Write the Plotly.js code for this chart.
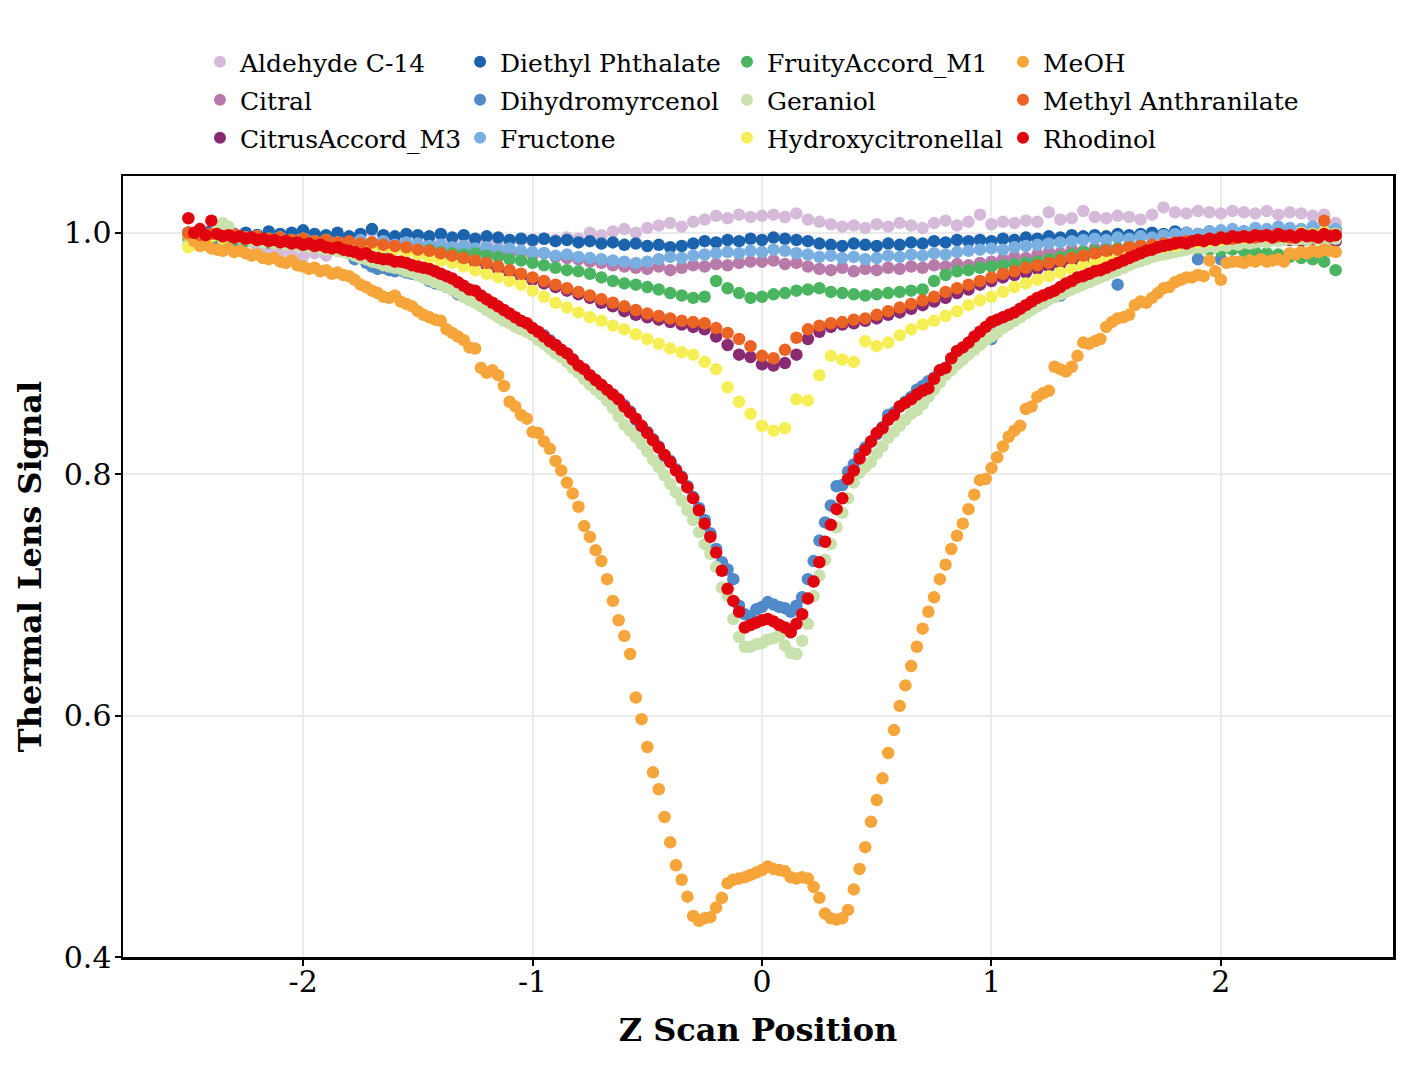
<!DOCTYPE html>
<html>
<head>
<meta charset="utf-8">
<script src="https://cdn.plot.ly/plotly-3.0.1.min.js"></script>
<style>
  html, body { margin: 0; padding: 0; background: #fff; }
  #chart { width: 1420px; height: 1065px; }
</style>
</head>
<body>
<div id="chart"></div>
<script>
// z scan positions: fine grid (0.025) for the deep curves, coarse grid (0.05) for the shallow ones
var zFine = [
  -2.5,-2.475,-2.45,-2.425,-2.4,-2.375,-2.35,-2.325,-2.3,-2.275,
  -2.25,-2.225,-2.2,-2.175,-2.15,-2.125,-2.1,-2.075,-2.05,-2.025,
  -2.0,-1.975,-1.95,-1.925,-1.9,-1.875,-1.85,-1.825,-1.8,-1.775,
  -1.75,-1.725,-1.7,-1.675,-1.65,-1.625,-1.6,-1.575,-1.55,-1.525,
  -1.5,-1.475,-1.45,-1.425,-1.4,-1.375,-1.35,-1.325,-1.3,-1.275,
  -1.25,-1.225,-1.2,-1.175,-1.15,-1.125,-1.1,-1.075,-1.05,-1.025,
  -1.0,-0.975,-0.95,-0.925,-0.9,-0.875,-0.85,-0.825,-0.8,-0.775,
  -0.75,-0.725,-0.7,-0.675,-0.65,-0.625,-0.6,-0.575,-0.55,-0.525,
  -0.5,-0.475,-0.45,-0.425,-0.4,-0.375,-0.35,-0.325,-0.3,-0.275,
  -0.25,-0.225,-0.2,-0.175,-0.15,-0.125,-0.1,-0.075,-0.05,-0.025,
  0.0,0.025,0.05,0.075,0.1,0.125,0.15,0.175,0.2,0.225,
  0.25,0.275,0.3,0.325,0.35,0.375,0.4,0.425,0.45,0.475,
  0.5,0.525,0.55,0.575,0.6,0.625,0.65,0.675,0.7,0.725,
  0.75,0.775,0.8,0.825,0.85,0.875,0.9,0.925,0.95,0.975,
  1.0,1.025,1.05,1.075,1.1,1.125,1.15,1.175,1.2,1.225,
  1.25,1.275,1.3,1.325,1.35,1.375,1.4,1.425,1.45,1.475,
  1.5,1.525,1.55,1.575,1.6,1.625,1.65,1.675,1.7,1.725,
  1.75,1.775,1.8,1.825,1.85,1.875,1.9,1.925,1.95,1.975,
  2.0,2.025,2.05,2.075,2.1,2.125,2.15,2.175,2.2,2.225,
  2.25,2.275,2.3,2.325,2.35,2.375,2.4,2.425,2.45,2.475,
  2.5
];
var zCoarse = [
  -2.5,-2.45,-2.4,-2.35,-2.3,-2.25,-2.2,-2.15,-2.1,-2.05,
  -2.0,-1.95,-1.9,-1.85,-1.8,-1.75,-1.7,-1.65,-1.6,-1.55,
  -1.5,-1.45,-1.4,-1.35,-1.3,-1.25,-1.2,-1.15,-1.1,-1.05,
  -1.0,-0.95,-0.9,-0.85,-0.8,-0.75,-0.7,-0.65,-0.6,-0.55,
  -0.5,-0.45,-0.4,-0.35,-0.3,-0.25,-0.2,-0.15,-0.1,-0.05,
  0.0,0.05,0.1,0.15,0.2,0.25,0.3,0.35,0.4,0.45,
  0.5,0.55,0.6,0.65,0.7,0.75,0.8,0.85,0.9,0.95,
  1.0,1.05,1.1,1.15,1.2,1.25,1.3,1.35,1.4,1.45,
  1.5,1.55,1.6,1.65,1.7,1.75,1.8,1.85,1.9,1.95,
  2.0,2.05,2.1,2.15,2.2,2.25,2.3,2.35,2.4,2.45,
  2.5
];

var aldehydeC14 = [
  1.000,0.995,0.997,0.992,0.990,0.993,0.988,0.986,0.984,0.982,
  0.980,0.983,0.981,0.985,0.988,0.992,1.001,0.990,0.992,0.989,
  0.991,0.990,0.992,0.989,0.991,0.993,0.992,0.990,0.993,0.994,
  0.993,0.995,0.994,0.996,0.995,1.000,0.998,1.001,1.003,1.000,
  1.004,1.006,1.008,1.005,1.009,1.011,1.014,1.012,1.015,1.013,
  1.014,1.015,1.013,1.016,1.011,1.009,1.007,1.005,1.006,1.004,
  1.007,1.005,1.008,1.006,1.004,1.008,1.010,1.006,1.009,1.015,
  1.007,1.009,1.008,1.010,1.009,1.017,1.011,1.012,1.018,1.013,
  1.012,1.014,1.013,1.011,1.015,1.021,1.017,1.016,1.018,1.017,
  1.016,1.018,1.017,1.016,1.018,1.015,1.017,1.016,1.014,1.015,
  1.008
];
var citral = [
  1.000,0.997,0.999,0.996,0.995,0.998,0.994,0.996,0.993,0.995,
  0.994,0.996,0.993,0.995,0.992,0.994,0.991,0.993,0.990,0.991,
  0.989,0.990,0.987,0.988,0.985,0.986,0.984,0.985,0.983,0.984,
  0.982,0.983,0.980,0.979,0.978,0.976,0.975,0.973,0.972,0.971,
  0.970,0.972,0.969,0.971,0.973,0.972,0.974,0.973,0.975,0.976,
  0.976,0.977,0.974,0.975,0.972,0.970,0.969,0.971,0.968,0.970,
  0.969,0.971,0.970,0.972,0.971,0.973,0.972,0.974,0.973,0.975,
  0.976,0.978,0.980,0.979,0.982,0.984,0.983,0.986,0.985,0.987,
  0.988,0.987,0.989,0.990,0.989,0.991,0.990,0.992,0.991,0.993,
  0.992,0.994,0.993,0.995,0.994,0.996,0.995,0.994,0.996,0.995,
  0.996
];
var citrusAccordM3 = [
  1.000,0.998,1.002,0.997,0.999,0.996,0.998,0.995,0.997,0.994,
  0.995,0.993,0.994,0.992,0.991,0.992,0.990,0.989,0.988,0.986,
  0.984,0.982,0.980,0.979,0.977,0.975,0.973,0.970,0.967,0.964,
  0.961,0.958,0.955,0.952,0.949,0.946,0.942,0.939,0.935,0.932,
  0.930,0.928,0.926,0.924,0.922,0.920,0.914,0.907,0.899,0.897,
  0.891,0.890,0.892,0.899,0.912,0.918,0.922,0.924,0.925,0.927,
  0.929,0.932,0.934,0.937,0.940,0.943,0.946,0.950,0.953,0.957,
  0.960,0.963,0.965,0.967,0.970,0.972,0.974,0.976,0.978,0.980,
  0.981,0.983,0.984,0.986,0.987,0.988,0.989,0.990,0.991,0.992,
  0.991,0.993,0.992,0.994,0.993,0.995,0.994,0.993,0.995,0.994,
  0.993
];
var diethylPhthalate = [
  1.000,0.998,1.001,0.999,0.997,1.000,0.998,1.001,0.999,1.000,
  1.002,0.999,0.998,1.000,0.997,0.999,1.003,0.998,0.997,0.999,
  0.998,0.997,0.999,0.996,0.998,0.995,0.997,0.996,0.994,0.995,
  0.994,0.995,0.993,0.994,0.992,0.993,0.991,0.992,0.990,0.991,
  0.989,0.990,0.988,0.989,0.991,0.993,0.992,0.994,0.993,0.995,
  0.994,0.996,0.995,0.994,0.993,0.991,0.990,0.989,0.991,0.990,
  0.989,0.991,0.990,0.992,0.991,0.993,0.992,0.994,0.993,0.994,
  0.993,0.995,0.994,0.996,0.995,0.997,0.996,0.998,0.997,0.998,
  0.997,0.999,0.998,0.999,1.000,0.999,1.001,1.000,0.999,1.001,
  1.000,0.999,1.001,1.000,1.002,1.001,1.000,1.002,1.001,1.000,
  1.002
];
var dihydromyrcenol = [
  1.000,0.998,0.996,0.999,0.997,0.995,0.998,0.996,0.994,0.997,
  0.995,0.993,0.996,0.994,0.992,0.995,0.993,0.991,0.994,0.992,
  0.990,0.993,0.991,0.989,0.992,0.990,0.988,0.986,0.983,0.978,
  0.980,0.975,0.972,0.970,0.971,0.969,0.968,0.969,0.967,0.966,
  0.965,0.963,0.960,0.958,0.957,0.955,0.953,0.949,0.948,0.946,
  0.944,0.941,0.938,0.937,0.935,0.933,0.931,0.928,0.924,0.922,
  0.920,0.917,0.915,0.911,0.907,0.903,0.899,0.895,0.889,0.880,
  0.880,0.876,0.873,0.869,0.865,0.861,0.857,0.852,0.845,0.839,
  0.835,0.829,0.823,0.815,0.811,0.804,0.798,0.790,0.781,0.772,
  0.762,0.751,0.738,0.727,0.721,0.713,0.691,0.684,0.682,0.688,
  0.690,0.694,0.692,0.690,0.689,0.686,0.691,0.698,0.713,0.728,
  0.745,0.760,0.774,0.790,0.791,0.802,0.808,0.817,0.822,0.827,
  0.833,0.839,0.849,0.851,0.856,0.860,0.864,0.870,0.873,0.877,
  0.880,0.886,0.888,0.894,0.898,0.902,0.906,0.912,0.914,0.916,
  0.912,0.918,0.923,0.926,0.929,0.932,0.934,0.937,0.940,0.942,
  0.945,0.947,0.948,0.952,0.955,0.957,0.960,0.962,0.964,0.966,
  0.968,0.970,0.957,0.972,0.974,0.976,0.977,0.979,0.981,0.982,
  0.983,0.985,0.986,0.987,0.988,0.989,0.978,0.990,0.991,0.990,
  0.978,0.992,0.993,0.992,0.994,0.993,0.995,0.994,0.996,0.995,
  0.997,0.996,0.998,0.997,0.999,0.998,1.000,0.999,1.001,1.000,
  1.002
];
var fructone = [
  1.000,0.996,0.998,0.995,0.997,0.994,0.996,0.993,0.995,0.992,
  0.994,0.991,0.993,0.990,0.992,0.994,0.991,0.993,0.990,0.992,
  0.991,0.989,0.990,0.988,0.989,0.987,0.988,0.986,0.987,0.985,
  0.984,0.983,0.981,0.982,0.980,0.979,0.978,0.977,0.976,0.975,
  0.976,0.978,0.980,0.979,0.981,0.982,0.983,0.984,0.983,0.985,
  0.984,0.986,0.985,0.983,0.982,0.980,0.981,0.979,0.980,0.978,
  0.979,0.981,0.980,0.982,0.981,0.983,0.982,0.984,0.985,0.986,
  0.987,0.986,0.988,0.989,0.990,0.991,0.992,0.993,0.994,0.995,
  0.994,0.996,0.995,0.997,0.996,0.998,0.999,1.000,0.999,1.001,
  1.002,1.003,1.001,1.004,1.003,1.005,1.004,1.003,1.005,1.004,
  1.003
];
var fruityAccordM1 = [
  0.995,0.993,0.996,0.994,0.995,0.993,0.994,0.992,0.993,0.991,
  0.992,0.990,0.991,0.989,0.990,0.988,0.989,0.987,0.988,0.986,
  0.985,0.986,0.984,0.983,0.982,0.983,0.981,0.980,0.978,0.977,
  0.975,0.973,0.971,0.969,0.968,0.966,0.963,0.960,0.958,0.957,
  0.955,0.953,0.950,0.948,0.946,0.947,0.960,0.954,0.950,0.946,
  0.947,0.949,0.950,0.952,0.953,0.954,0.951,0.950,0.949,0.948,
  0.949,0.950,0.951,0.952,0.953,0.960,0.965,0.968,0.969,0.971,
  0.972,0.973,0.974,0.975,0.976,0.978,0.980,0.982,0.984,0.985,
  0.986,0.987,0.988,0.989,0.988,0.987,0.989,0.988,0.987,0.986,
  0.985,0.986,0.985,0.984,0.983,0.982,0.980,0.979,0.978,0.976,
  0.969
];
var geraniol = [
  0.990,0.993,0.996,0.994,0.997,1.003,1.008,1.005,0.998,0.996,
  0.995,0.993,0.994,0.992,0.993,0.991,0.992,0.990,0.991,0.989,
  0.990,0.988,0.989,0.987,0.986,0.987,0.985,0.984,0.983,0.981,
  0.979,0.978,0.976,0.975,0.973,0.972,0.971,0.970,0.968,0.967,
  0.965,0.963,0.961,0.959,0.957,0.955,0.953,0.950,0.947,0.944,
  0.942,0.939,0.936,0.933,0.930,0.927,0.925,0.922,0.920,0.918,
  0.915,0.911,0.908,0.904,0.900,0.897,0.893,0.888,0.884,0.879,
  0.874,0.870,0.866,0.861,0.855,0.848,0.841,0.836,0.831,0.825,
  0.819,0.812,0.806,0.799,0.792,0.785,0.778,0.770,0.762,0.752,
  0.742,0.734,0.723,0.706,0.699,0.680,0.665,0.657,0.657,0.659,
  0.660,0.663,0.664,0.666,0.658,0.652,0.651,0.662,0.676,0.699,
  0.716,0.729,0.742,0.756,0.768,0.780,0.793,0.801,0.806,0.810,
  0.817,0.823,0.830,0.835,0.840,0.845,0.850,0.853,0.858,0.864,
  0.870,0.876,0.882,0.886,0.891,0.895,0.899,0.903,0.907,0.911,
  0.914,0.917,0.921,0.924,0.927,0.930,0.933,0.936,0.939,0.942,
  0.945,0.947,0.949,0.951,0.953,0.955,0.957,0.959,0.961,0.963,
  0.965,0.967,0.969,0.971,0.973,0.975,0.977,0.978,0.980,0.981,
  0.982,0.983,0.984,0.985,0.986,0.987,0.988,0.987,0.989,0.988,
  0.990,0.989,0.991,0.990,0.992,0.991,0.992,0.993,0.992,0.994,
  0.993,0.994,0.995,0.994,0.995,0.994,0.996,0.995,0.994,0.996,
  0.995
];
var hydroxycitronellal = [
  0.988,0.992,0.997,0.995,0.998,0.996,0.997,0.995,0.996,0.994,
  0.995,0.993,0.994,0.992,0.991,0.990,0.989,0.988,0.986,0.984,
  0.982,0.979,0.977,0.975,0.972,0.969,0.966,0.963,0.960,0.957,
  0.952,0.947,0.942,0.938,0.934,0.930,0.927,0.923,0.920,0.916,
  0.912,0.908,0.904,0.901,0.899,0.893,0.887,0.872,0.860,0.850,
  0.840,0.836,0.838,0.862,0.861,0.882,0.898,0.895,0.893,0.910,
  0.906,0.909,0.915,0.920,0.924,0.927,0.931,0.935,0.940,0.944,
  0.947,0.951,0.955,0.958,0.961,0.964,0.967,0.970,0.973,0.976,
  0.978,0.980,0.982,0.984,0.986,0.988,0.989,0.991,0.992,0.993,
  0.994,0.995,0.996,0.998,0.997,0.999,0.998,1.000,0.999,1.001,
  0.999
];
var meOH = [
  0.998,0.993,0.989,0.990,0.987,0.986,0.985,0.987,0.984,0.985,
  0.983,0.981,0.982,0.979,0.978,0.979,0.976,0.975,0.977,0.973,
  0.972,0.970,0.971,0.968,0.969,0.966,0.967,0.965,0.964,0.961,
  0.957,0.955,0.952,0.950,0.947,0.946,0.948,0.943,0.941,0.939,
  0.935,0.932,0.930,0.928,0.927,0.920,0.917,0.914,0.911,0.905,
  0.904,0.888,0.884,0.886,0.882,0.873,0.860,0.856,0.849,0.846,
  0.835,0.834,0.827,0.821,0.811,0.803,0.793,0.784,0.773,0.757,
  0.748,0.737,0.728,0.713,0.695,0.679,0.666,0.651,0.615,0.597,
  0.574,0.553,0.539,0.516,0.495,0.476,0.464,0.450,0.434,0.430,
  0.432,0.433,0.441,0.449,0.461,0.464,0.465,0.466,0.468,0.470,
  0.472,0.475,0.473,0.472,0.471,0.466,0.465,0.466,0.465,0.458,
  0.449,0.436,0.432,0.431,0.432,0.439,0.456,0.473,0.491,0.512,
  0.530,0.548,0.569,0.588,0.608,0.625,0.641,0.657,0.672,0.686,
  0.698,0.713,0.725,0.738,0.749,0.759,0.771,0.783,0.795,0.796,
  0.805,0.814,0.823,0.831,0.836,0.840,0.854,0.856,0.864,0.867,
  0.869,0.889,0.887,0.885,0.889,0.898,0.909,0.908,0.910,0.912,
  0.922,0.926,0.929,0.930,0.932,0.940,0.943,0.942,0.946,0.950,
  0.954,0.955,0.959,0.961,0.963,0.963,0.965,0.964,0.977,0.968,
  0.961,0.975,0.976,0.976,0.975,0.977,0.976,0.978,0.976,0.977,
  0.978,0.976,0.983,0.982,0.984,0.983,0.985,0.984,0.986,0.985,
  0.984
];
var methylAnthranilate = [
  1.000,0.998,0.999,0.997,0.998,0.996,0.997,0.995,0.996,0.994,
  0.995,0.993,0.994,0.992,0.993,0.991,0.992,0.990,0.989,0.988,
  0.986,0.985,0.983,0.981,0.979,0.977,0.975,0.972,0.969,0.966,
  0.963,0.960,0.957,0.954,0.951,0.948,0.945,0.942,0.939,0.936,
  0.933,0.931,0.929,0.927,0.926,0.925,0.921,0.917,0.912,0.906,
  0.898,0.896,0.903,0.913,0.920,0.923,0.925,0.926,0.928,0.929,
  0.932,0.935,0.938,0.941,0.944,0.947,0.951,0.954,0.957,0.960,
  0.963,0.966,0.968,0.971,0.973,0.975,0.977,0.979,0.981,0.983,
  0.985,0.986,0.988,0.989,0.990,0.991,0.992,0.993,0.994,0.995,
  0.996,0.995,0.997,0.996,0.998,0.997,0.996,0.998,0.997,1.010,
  0.998
];
var rhodinol = [
  1.012,1.000,1.003,0.998,1.010,0.999,0.997,0.998,0.996,0.997,
  0.995,0.996,0.994,0.995,0.993,0.994,0.992,0.993,0.991,0.992,
  0.990,0.991,0.989,0.990,0.988,0.987,0.988,0.986,0.985,0.984,
  0.982,0.983,0.980,0.979,0.978,0.978,0.976,0.976,0.975,0.973,
  0.972,0.971,0.970,0.968,0.966,0.964,0.962,0.959,0.956,0.953,
  0.952,0.948,0.945,0.942,0.939,0.936,0.933,0.930,0.927,0.925,
  0.921,0.918,0.914,0.910,0.907,0.903,0.900,0.895,0.890,0.887,
  0.882,0.878,0.874,0.870,0.866,0.862,0.856,0.851,0.846,0.840,
  0.834,0.828,0.822,0.816,0.810,0.803,0.797,0.789,0.780,0.770,
  0.759,0.748,0.735,0.720,0.705,0.695,0.686,0.673,0.675,0.677,
  0.679,0.680,0.678,0.675,0.673,0.669,0.676,0.684,0.697,0.711,
  0.727,0.744,0.758,0.771,0.780,0.796,0.803,0.813,0.820,0.827,
  0.834,0.838,0.845,0.849,0.856,0.859,0.862,0.866,0.869,0.871,
  0.879,0.886,0.888,0.896,0.902,0.905,0.909,0.914,0.918,0.922,
  0.926,0.928,0.930,0.932,0.934,0.937,0.940,0.943,0.946,0.948,
  0.950,0.952,0.955,0.958,0.960,0.963,0.964,0.966,0.968,0.969,
  0.971,0.973,0.975,0.977,0.979,0.981,0.983,0.985,0.986,0.988,
  0.989,0.990,0.991,0.992,0.991,0.993,0.994,0.993,0.995,0.994,
  0.996,0.995,0.997,0.996,0.997,0.996,0.998,0.997,0.998,0.996,
  0.999,0.997,0.998,0.996,0.999,0.997,0.998,0.996,0.999,0.997,
  0.998
];

var xTickVals = [-2, -1, 0, 1, 2];
var xTickText = ['-2', '-1', '0', '1', '2'];

// drawn in alphabetical order; each legend column is its own vertical legend
var series = [
  { name: 'Aldehyde C-14',        x: zCoarse, y: aldehydeC14,        color: '#d5bada', col: 'legend' },
  { name: 'Citral',               x: zCoarse, y: citral,             color: '#b77aa9', col: 'legend' },
  { name: 'CitrusAccord_M3',      x: zCoarse, y: citrusAccordM3,     color: '#892b73', col: 'legend' },
  { name: 'Diethyl Phthalate',    x: zCoarse, y: diethylPhthalate,   color: '#1b63ad', col: 'legend2' },
  { name: 'Dihydromyrcenol',      x: zFine,   y: dihydromyrcenol,    color: '#518ac9', col: 'legend2' },
  { name: 'Fructone',             x: zCoarse, y: fructone,           color: '#79afe0', col: 'legend2' },
  { name: 'FruityAccord_M1',      x: zCoarse, y: fruityAccordM1,     color: '#4bb461', col: 'legend3' },
  { name: 'Geraniol',             x: zFine,   y: geraniol,           color: '#c9e1ac', col: 'legend3' },
  { name: 'Hydroxycitronellal',   x: zCoarse, y: hydroxycitronellal, color: '#f6ee55', col: 'legend3' },
  { name: 'MeOH',                 x: zFine,   y: meOH,               color: '#f5a53a', col: 'legend4' },
  { name: 'Methyl Anthranilate',  x: zCoarse, y: methylAnthranilate, color: '#ec6424', col: 'legend4' },
  { name: 'Rhodinol',             x: zFine,   y: rhodinol,           color: '#e0040f', col: 'legend4' }
];

var data = series.map(function(s) {
  return {
    type: 'scatter',
    mode: 'markers',
    name: s.name,
    legend: s.col,
    legendgroup: s.name,
    x: s.x,
    y: s.y,
    marker: { color: s.color, size: 12.5 }
  };
});

var font = 'DejaVu Serif';

function legendCol(xPaper) {
  return {
    orientation: 'v',
    x: xPaper, xanchor: 'left',
    y: 1.1754, yanchor: 'top',
    tracegroupgap: 2.5,
    itemsizing: 'constant',
    font: { family: font, size: 25, color: '#000' },
    bgcolor: 'rgba(0,0,0,0)'
  };
}

var layout = {
  width: 1420,
  height: 1065,
  paper_bgcolor: '#fff',
  plot_bgcolor: '#fff',
  margin: { l: 123, r: 27, t: 176, b: 108 },
  font: { family: font, color: '#000' },
  showlegend: true,
  legend: legendCol(0.0606),
  legend2: legendCol(0.2654),
  legend3: legendCol(0.4756),
  legend4: legendCol(0.6929),
  xaxis: {
    range: [-2.785, 2.75],
    tickvals: xTickVals,
    ticktext: xTickText,
    ticks: 'outside', ticklen: 6, tickwidth: 2, tickcolor: '#000',
    ticklabelstandoff: -10,
    showline: true, linecolor: '#000', linewidth: 2.5, mirror: true,
    showgrid: true, gridcolor: '#ebebeb', gridwidth: 2,
    zeroline: false,
    tickfont: { family: font, size: 30, color: '#000' },
    title: { text: 'Z Scan Position', standoff: 21,
             font: { family: font, size: 32, weight: 'bold', color: '#000' } }
  },
  yaxis: {
    range: [0.4, 1.047],
    tick0: 0.4, dtick: 0.2, tickformat: '.1f',
    ticks: 'outside', ticklen: 6, tickwidth: 2, tickcolor: '#000',
    ticklabelstandoff: -3,
    showline: true, linecolor: '#000', linewidth: 2.5, mirror: true,
    showgrid: true, gridcolor: '#ebebeb', gridwidth: 2,
    zeroline: false,
    tickfont: { family: font, size: 30, color: '#000' },
    title: { text: 'Thermal Lens Signal', standoff: 13,
             font: { family: font, size: 32, weight: 'bold', color: '#000' } }
  }
};

Plotly.newPlot('chart', data, layout, { staticPlot: true, displayModeBar: false });
</script>
</body>
</html>
